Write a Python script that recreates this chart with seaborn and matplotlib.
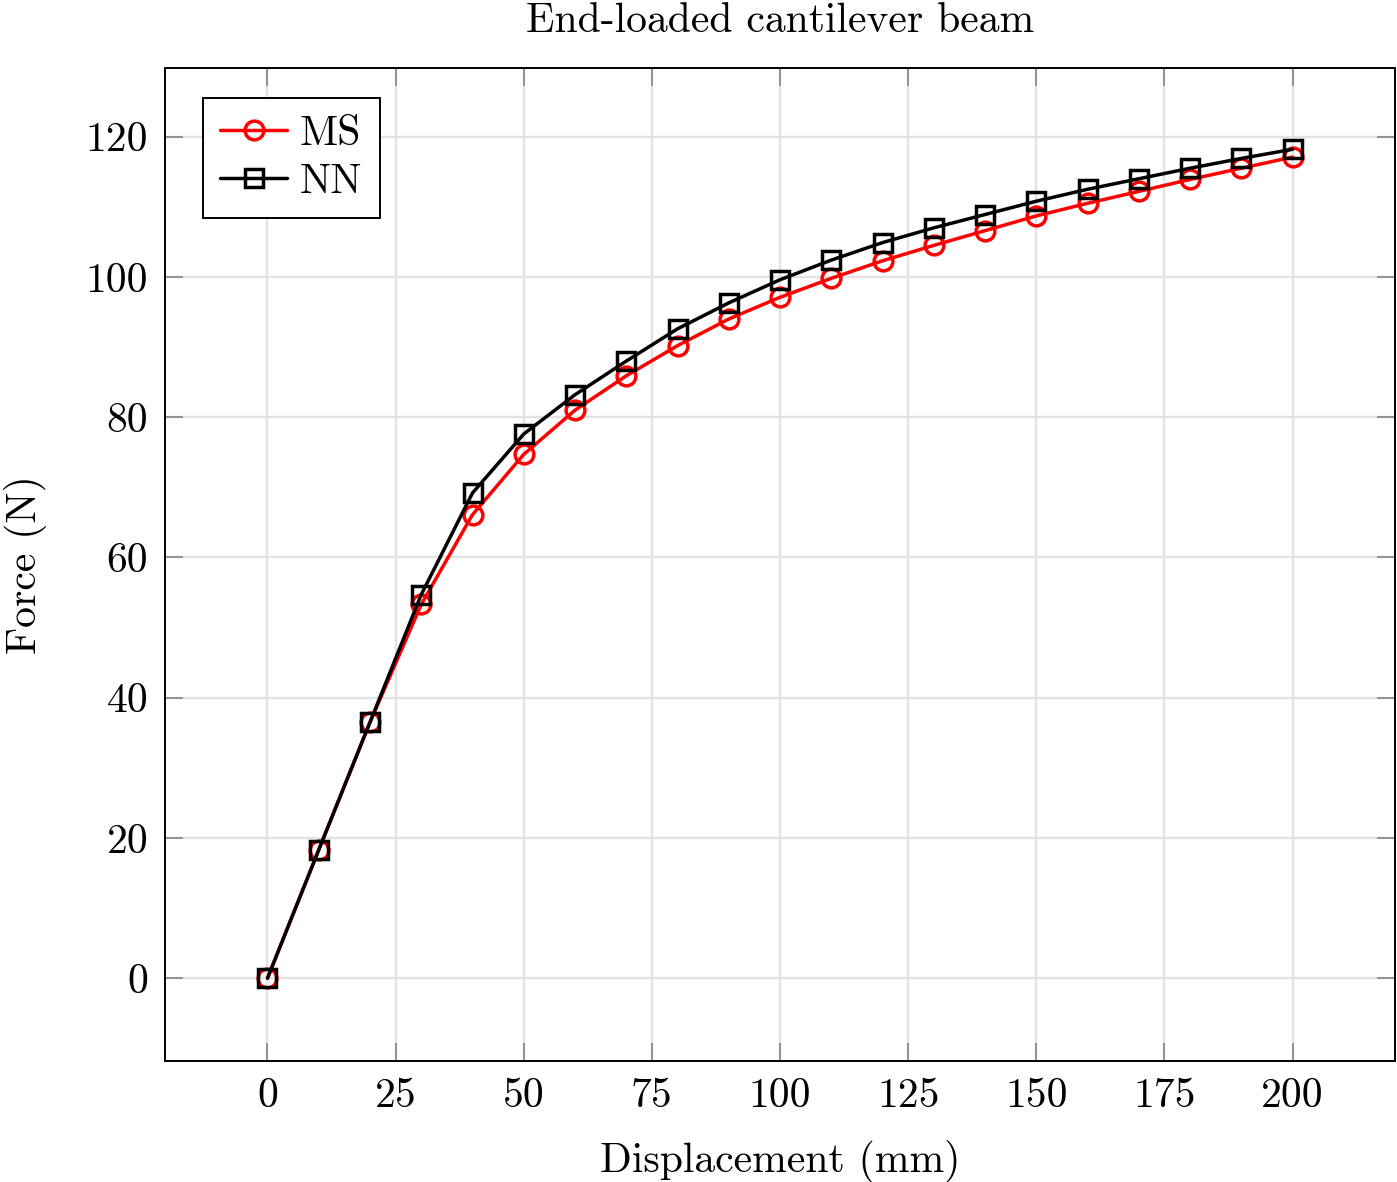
import matplotlib
matplotlib.use("Agg")
import matplotlib.pyplot as plt
import seaborn as sns

displacement = [0, 10, 20, 30, 40, 50, 60, 70, 80, 90, 100,
                110, 120, 130, 140, 150, 160, 170, 180, 190, 200]
ms_force = [0.0, 18.3, 36.5, 53.3, 66.1, 74.7, 81.0, 85.9, 90.2, 94.0, 97.1,
            99.8, 102.3, 104.5, 106.6, 108.7, 110.5, 112.2, 113.9, 115.5, 117.1]
nn_force = [0.0, 18.3, 36.5, 54.7, 69.2, 77.6, 83.2, 88.0, 92.6, 96.3, 99.6,
            102.4, 104.9, 107.0, 108.9, 110.8, 112.5, 114.0, 115.5, 116.9, 118.2]
x_ticks = [0, 25, 50, 75, 100, 125, 150, 175, 200]
y_ticks = [0, 20, 40, 60, 80, 100, 120]

sns.set_style("white")
plt.rcParams["font.family"] = ["cmr10", "DejaVu Serif"]
plt.rcParams["mathtext.fontset"] = "cm"
plt.rcParams["axes.formatter.use_mathtext"] = True
plt.rcParams["text.color"] = "black"
plt.rcParams["axes.labelcolor"] = "black"
plt.rcParams["xtick.labelcolor"] = "black"
plt.rcParams["ytick.labelcolor"] = "black"

FS = 30

fig = plt.figure(figsize=(13.97, 11.82), dpi=100)
ax = fig.add_axes([0.1181, 0.1024, 0.8805, 0.8401])

sns.lineplot(x=displacement, y=ms_force, ax=ax, color="red", marker="o",
             markersize=13.5, markerfacecolor="none", markeredgecolor="red",
             markeredgewidth=2.5, linewidth=2.5, label="MS", zorder=3)
sns.lineplot(x=displacement, y=nn_force, ax=ax, color="black", marker="s",
             markersize=12.5, markerfacecolor="none", markeredgecolor="black",
             markeredgewidth=2.5, linewidth=2.5, label="NN", zorder=4)

ax.set_xlim(-20, 220)
ax.set_ylim(-11.8, 129.8)
ax.set_xticks(x_ticks)
ax.set_yticks(y_ticks)
ax.set_xticklabels([str(t) for t in x_ticks])
ax.set_yticklabels([str(t) for t in y_ticks])

ax.grid(True, color="#e3e3e3", linewidth=1.7, zorder=0)
ax.set_axisbelow(True)
ax.tick_params(axis="both", which="major", direction="in", length=13,
               width=1.3, color="#8c8c8c", labelsize=FS, pad=12,
               labelcolor="black",
               top=True, right=True, bottom=True, left=True)
for s in ax.spines.values():
    s.set_color("black")
    s.set_linewidth(1.4)
    s.set_visible(True)

ax.set_title("End-loaded cantilever beam", fontsize=FS, pad=26, color="black")
ax.set_xlabel("Displacement (mm)", fontsize=FS, labelpad=18, color="black")
ax.set_ylabel("Force (N)", fontsize=FS, labelpad=28, color="black")

leg = ax.legend(loc="upper left", bbox_to_anchor=(0.0309, 0.9698),
                borderaxespad=0, fontsize=FS, frameon=True, fancybox=False,
                edgecolor="black", handlelength=1.6, handletextpad=0.3,
                labelspacing=0.25, borderpad=0.42)
leg.get_frame().set_linewidth(1.4)
leg.get_frame().set_alpha(1)
for t in leg.get_texts():
    t.set_color("black")

fig.savefig("out.png", dpi=100)
